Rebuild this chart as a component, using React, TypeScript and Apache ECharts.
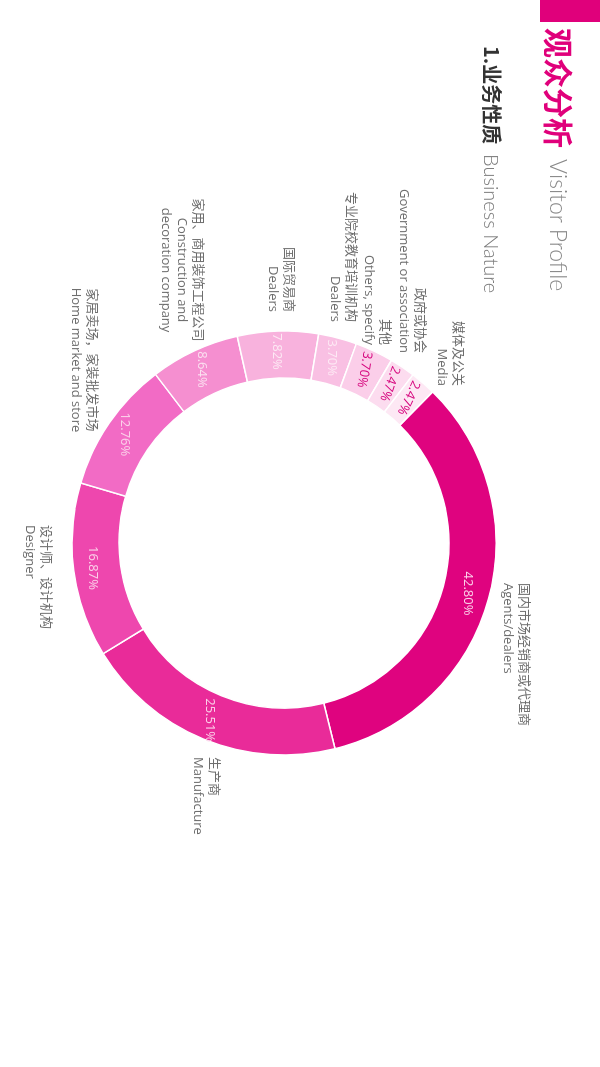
import React, { useEffect, useRef } from 'react';
import * as echarts from 'echarts';

// ---- data ----
const categoriesCn = [
  '国内市场经销商或代理商',
  '生产商',
  '设计师、设计机构',
  '家居卖场，家装批发市场',
  '家用、商用装饰工程公司',
  '国际贸易商',
  '专业院校教育培训机构',
  '其他',
  '政府或协会',
  '媒体及公关',
];
const categoriesEn = [
  'Agents/dealers',
  'Manufacture',
  'Designer',
  'Home market and store',
  'Construction and\ndecoration company',
  'Dealers',
  'Dealers',
  'Others, specify',
  'Government or association',
  'Media',
];
const shares = [42.8, 25.51, 16.87, 12.76, 8.64, 7.82, 3.7, 3.7, 2.47, 2.47];

// ---- styles / layout (landscape frame, rotated on page) ----
const sliceColors = [
  '#df037f', '#e92b99', '#ee47ae', '#f26bc5', '#f58fd0',
  '#f8b2dd', '#f9c0e3', '#fbcee9', '#fcdcef', '#fde8f4',
];
const innerLabelColors = [
  '#fbd0e9', '#fbd0e9', '#fbd0e9', '#fbd0e9', '#fbe0f0',
  '#fde9f4', '#fde9f4', '#d6087f', '#d6087f', '#d6087f',
];
const innerLabelRotate = [0, 0, 0, 0, 0, 0, 0, -10, -20, -25];
// [x, yCenter, align] for outer labels
const outerLabelAnchors: [number, number, string][] = [
  [583, 83, 'left'],
  [757, 393, 'left'],
  [525, 561, 'left'],
  [360, 515, 'center'],
  [270, 417, 'center'],
  [312, 318, 'right'],
  [322, 256, 'right'],
  [345, 222, 'right'],
  [353, 187, 'right'],
  [386, 149, 'right'],
];

const W = 1067;
const H = 600;
const CENTER = [543, 316];
const RADIUS = [165, 212];
const START = 135.5;
const FONT = "'Open Sans', 'Noto Sans CJK SC', sans-serif";

export default function App() {
  const ref = useRef<HTMLDivElement>(null);

  useEffect(() => {
    document.body.style.margin = '0';
    document.body.style.overflow = 'hidden';
    const chart = echarts.init(ref.current!, null, { renderer: 'svg' });

    const innerData = shares.map((v, i) => ({
      value: v,
      name: categoriesCn[i],
      itemStyle: { color: sliceColors[i] },
      label: { color: innerLabelColors[i], rotate: innerLabelRotate[i] },
    }));
    const outerData = shares.map((v, i) => ({
      value: v,
      name: categoriesCn[i],
    }));

    chart.setOption({
      animation: false,
      backgroundColor: '#ffffff',
      graphic: [
        { type: 'rect', shape: { x: 0, y: 0, width: 22, height: 60 }, style: { fill: '#e0007b' } },
        {
          type: 'text', x: 28, y: 40,
          style: { text: '观众分析', fontSize: 30, fontWeight: 'bold', fill: '#e0007b', fontFamily: "'Noto Sans CJK SC'", verticalAlign: 'middle' },
        },
        {
          type: 'text', x: 159, y: 41,
          style: { text: 'Visitor Profile', fontSize: 23, fontWeight: 300, fill: '#8a8a8a', fontFamily: "Lato, 'Open Sans', sans-serif", verticalAlign: 'middle' },
        },
        {
          type: 'text', x: 46, y: 107,
          style: { text: '1.业务性质', fontSize: 20, fontWeight: 'bold', fill: '#333333', fontFamily: "'Noto Sans CJK SC'", verticalAlign: 'middle' },
        },
        {
          type: 'text', x: 154, y: 108,
          style: { text: 'Business Nature', fontSize: 20, fontWeight: 300, fill: '#7a7a7a', fontFamily: "Lato, 'Open Sans', sans-serif", verticalAlign: 'middle' },
        },
      ],
      series: [
        {
          type: 'pie',
          radius: RADIUS,
          center: CENTER,
          startAngle: START,
          clockwise: true,
          avoidLabelOverlap: false,
          silent: true,
          itemStyle: { borderColor: '#ffffff', borderWidth: 1.5 },
          label: {
            show: true,
            position: 'inside',
            fontSize: 13,
            fontFamily: FONT,
            formatter: (p: any) => p.value.toFixed(2) + '%',
          },
          labelLine: { show: false },
          emphasis: { disabled: true },
          data: innerData,
        },
        {
          type: 'pie',
          radius: RADIUS,
          center: CENTER,
          startAngle: START,
          clockwise: true,
          avoidLabelOverlap: false,
          silent: true,
          itemStyle: { color: 'rgba(0,0,0,0)', borderWidth: 0 },
          label: {
            show: true,
            position: 'outside',
            fontSize: 13,
            lineHeight: 16,
            color: '#6e6e6e',
            fontFamily: FONT,
            formatter: (p: any) => categoriesCn[p.dataIndex] + '\n' + categoriesEn[p.dataIndex],
          },
          labelLine: { show: false },
          labelLayout: (p: any) => {
            const a = outerLabelAnchors[p.dataIndex];
            return { x: a[0], y: a[1], align: a[2], verticalAlign: 'middle', hideOverlap: false, moveOverlap: false };
          },
          emphasis: { disabled: true },
          data: outerData,
        },
      ],
    });

    return () => chart.dispose();
  }, []);

  return (
    <div
      style={{
        position: 'fixed',
        left: 0,
        top: 0,
        width: W,
        height: H,
        transformOrigin: '0 0',
        transform: `translate(${H}px, 0px) rotate(90deg)`,
        background: '#ffffff',
      }}
    >
      <div ref={ref} style={{ width: W, height: H }} />
    </div>
  );
}
